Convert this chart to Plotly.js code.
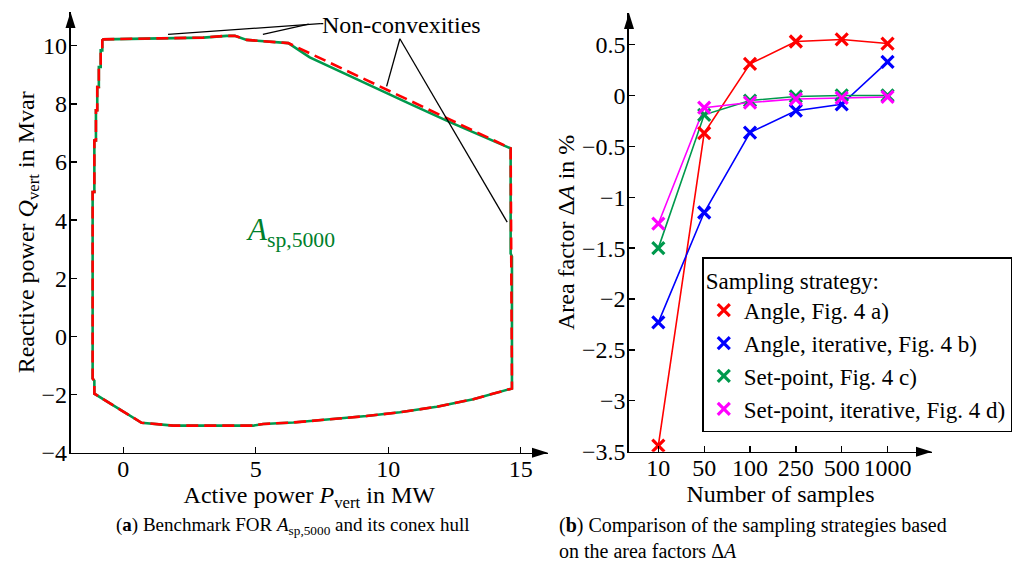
<!DOCTYPE html>
<html>
<head>
<meta charset="utf-8">
<script src="https://cdn.plot.ly/plotly-3.0.1.min.js"></script>
<style>html,body{margin:0;padding:0;background:#fff;}#chart{width:1021px;height:563px;}</style>
</head>
<body>
<div id="chart"></div>
<script>
// ---------- Left panel: feasible operating region (FOR) ----------
var forP = [-0.79, 3.02, 3.9, 4.21, 4.66, 6.23, 7.04, 8.93, 10.82, 12.33, 13.96, 14.62, 14.62, 14.67, 14.67,
            13.21, 11.83, 10.44, 9.18, 7.92, 6.42, 5.28, 4.9, 1.89, 1.2, 0.69, -1.09, -1.09, -1.155, -1.155,
            -1.09, -1.09, -1.03, -1.03, -0.98, -0.98, -0.92, -0.92, -0.85, -0.85, -0.79, -0.79];
var forQ = [10.22, 10.28, 10.34, 10.34, 10.2, 10.09, 9.6, 8.79, 8.0, 7.37, 6.74, 6.47, 2.85, 2.75, -1.79,
            -2.16, -2.42, -2.61, -2.74, -2.84, -2.96, -3.01, -3.07, -3.07, -3.01, -2.97, -1.97, -1.52, -1.45, 4.97,
            4.97, 6.74, 6.74, 7.78, 7.78, 8.58, 8.58, 9.27, 9.27, 9.84, 9.84, 10.22];
var hullP = [-0.79, 3.02, 3.9, 4.21, 4.66, 6.23, 14.62, 14.67,
             13.21, 11.83, 10.44, 9.18, 7.92, 6.42, 5.28, 4.9, 1.89, 1.2, 0.69, -1.09, -1.09, -1.155, -1.155,
             -1.09, -1.09, -1.03, -1.03, -0.98, -0.98, -0.92, -0.92, -0.85, -0.85, -0.79, -0.79];
var hullQ = [10.22, 10.28, 10.34, 10.34, 10.2, 10.09, 6.47, -1.79,
             -2.16, -2.42, -2.61, -2.74, -2.84, -2.96, -3.01, -3.07, -3.07, -3.01, -2.97, -1.97, -1.52, -1.45, 4.97,
             4.97, 6.74, 6.74, 7.78, 7.78, 8.58, 8.58, 9.27, 9.27, 9.84, 9.84, 10.22];

// ---------- Right panel: area factors ----------
var samples = ['10', '50', '100', '250', '500', '1000'];
var seriesNames = ['Angle, Fig. 4 a)', 'Angle, iterative, Fig. 4 b)', 'Set-point, Fig. 4 c)', 'Set-point, iterative, Fig. 4 d)'];
var angle         = [-3.44, -0.37, 0.31, 0.53, 0.55, 0.51];
var angleIter     = [-2.23, -1.15, -0.365, -0.15, -0.087, 0.33];
var setPoint      = [-1.50, -0.19, -0.05, -0.01, 0.0, 0.0];
var setPointIter  = [-1.26, -0.12, -0.07, -0.035, -0.025, -0.015];
var seriesColors = ['#ff0000', '#0000ff', '#00994d', '#ff00ff'];

var FONT = '"Liberation Serif", "Times New Roman", serif';
var FS = 24;
var W = 1021, H = 563;
function px(x){ return x / W; }
function py(y){ return 1 - y / H; }

var traces = [];
traces.push({x: forP, y: forQ, xaxis: 'x', yaxis: 'y', mode: 'lines', showlegend: false,
  line: {color: '#00994d', width: 2.6}, hoverinfo: 'skip'});
traces.push({x: hullP, y: hullQ, xaxis: 'x', yaxis: 'y', mode: 'lines', showlegend: false,
  line: {color: '#ff0000', width: 2.6, dash: '12px,6px'}, hoverinfo: 'skip'});

var allSeries = [angle, angleIter, setPoint, setPointIter];
for (var i = 0; i < allSeries.length; i++) {
  traces.push({x: samples, y: allSeries[i], xaxis: 'x2', yaxis: 'y2', mode: 'lines', showlegend: false,
    line: {color: seriesColors[i], width: 1.6}});
}
for (var i = 0; i < allSeries.length; i++) {
  traces.push({x: samples, y: allSeries[i], xaxis: 'x2', yaxis: 'y2', mode: 'markers', name: seriesNames[i],
    marker: {symbol: 'x-thin', size: 12, color: seriesColors[i], line: {color: seriesColors[i], width: 3.2}}});
}

function arrowRight(tx, ty){ // tip px
  return {type: 'path', xref: 'paper', yref: 'paper', fillcolor: '#000', line: {width: 0},
    path: 'M ' + px(tx) + ' ' + py(ty) + ' L ' + px(tx - 16) + ' ' + py(ty - 5) + ' L ' + px(tx - 16) + ' ' + py(ty + 5) + ' Z'};
}
function arrowUp(tx, ty){
  return {type: 'path', xref: 'paper', yref: 'paper', fillcolor: '#000', line: {width: 0},
    path: 'M ' + px(tx) + ' ' + py(ty) + ' L ' + px(tx - 5) + ' ' + py(ty + 16) + ' L ' + px(tx + 5) + ' ' + py(ty + 16) + ' Z'};
}
function seg(x0, y0, x1, y1){
  return {type: 'line', xref: 'x', yref: 'y', x0: x0, y0: y0, x1: x1, y1: y1, line: {color: '#000', width: 1.3}};
}

var shapes = [
  arrowRight(548, 452.7), arrowUp(70.5, 12),
  arrowRight(932, 451.7), arrowUp(629, 13),
  seg(7.43, 10.76, 1.69, 10.39),
  seg(7.00, 10.74, 5.27, 10.39),
  seg(7.43, 10.76, 7.55, 10.76),
  seg(10.44, 10.24, 9.94, 8.60),
  seg(10.44, 10.24, 14.49, 3.93)
];

var axCommon = {showline: true, linecolor: '#000', linewidth: 1.6, ticks: 'inside', ticklen: 6, tickwidth: 1.3,
  tickcolor: '#000', showgrid: false, zeroline: false, tickfont: {family: FONT, size: FS, color: '#000'},
  fixedrange: true};

var layout = {
  width: W, height: H,
  margin: {l: 0, r: 0, t: 0, b: 0},
  paper_bgcolor: '#fff', plot_bgcolor: 'rgba(0,0,0,0)',
  font: {family: FONT, size: FS, color: '#000'},
  showlegend: true,
  xaxis: Object.assign({}, axCommon, {domain: [px(70.5), px(548)], range: [-1.99, 16.03], anchor: 'y',
    tickvals: [0, 5, 10, 15], ticktext: ['0', '5', '10', '15'], ticklabelstandoff: -6,
    title: {text: 'Active power <i>P</i><sub>vert</sub> in MW', font: {family: FONT, size: FS}, standoff: 0}}),
  yaxis: Object.assign({}, axCommon, {domain: [py(452.7), py(12)], range: [-4, 11.16], anchor: 'x',
    tickvals: [-4, -2, 0, 2, 4, 6, 8, 10], ticklabelstandoff: -3,
    title: {text: 'Reactive power <i>Q</i><sub>vert</sub> in Mvar', font: {family: FONT, size: FS}, standoff: 0}}),
  xaxis2: Object.assign({}, axCommon, {domain: [px(629), px(932)], range: [-0.64, 5.97], anchor: 'y2', type: 'category',
    ticklabelstandoff: -6,
    title: {text: 'Number of samples', font: {family: FONT, size: FS}, standoff: 0}}),
  yaxis2: Object.assign({}, axCommon, {domain: [py(451.7), py(13)], range: [-3.5, 0.81], anchor: 'x2',
    tickvals: [-3.5, -3, -2.5, -2, -1.5, -1, -0.5, 0, 0.5], ticklabelstandoff: -3,
    title: {text: 'Area factor Δ<i>A</i> in %', font: {family: FONT, size: FS}, standoff: 0}}),
  legend: {x: px(702.3), y: py(257.3), xanchor: 'left', yanchor: 'top', bgcolor: '#fff',
    bordercolor: '#000', borderwidth: 1.5, font: {family: FONT, size: 23, color: '#000'},
    title: {text: 'Sampling strategy:', font: {family: FONT, size: 23}}},
  shapes: shapes,
  annotations: [
    {xref: 'x', yref: 'y', x: 10.52, y: 10.7, text: 'Non-convexities', showarrow: false,
     font: {family: FONT, size: FS, color: '#000'}},
    {xref: 'x', yref: 'y', x: 6.3, y: 3.6, text: '<i>A</i><sub>sp,5000</sub>', showarrow: false,
     font: {family: FONT, size: 31, color: '#00802b'}},
    {xref: 'paper', yref: 'paper', x: px(293), y: py(526), xanchor: 'center', yanchor: 'middle',
     text: '(<b>a</b>) Benchmark FOR <i>A</i><sub>sp,5000</sub> and its conex hull',
     showarrow: false, font: {family: FONT, size: 19, color: '#000'}},
    {xref: 'paper', yref: 'paper', x: px(557), y: py(512), xanchor: 'left', yanchor: 'top', align: 'left',
     text: '(<b>b</b>) Comparison of the sampling strategies based<br>on the area factors Δ<i>A</i>',
     showarrow: false, font: {family: FONT, size: 20, color: '#000'}}
  ]
};

Plotly.newPlot('chart', traces, layout, {staticPlot: true, displayModeBar: false});
</script>
</body>
</html>
